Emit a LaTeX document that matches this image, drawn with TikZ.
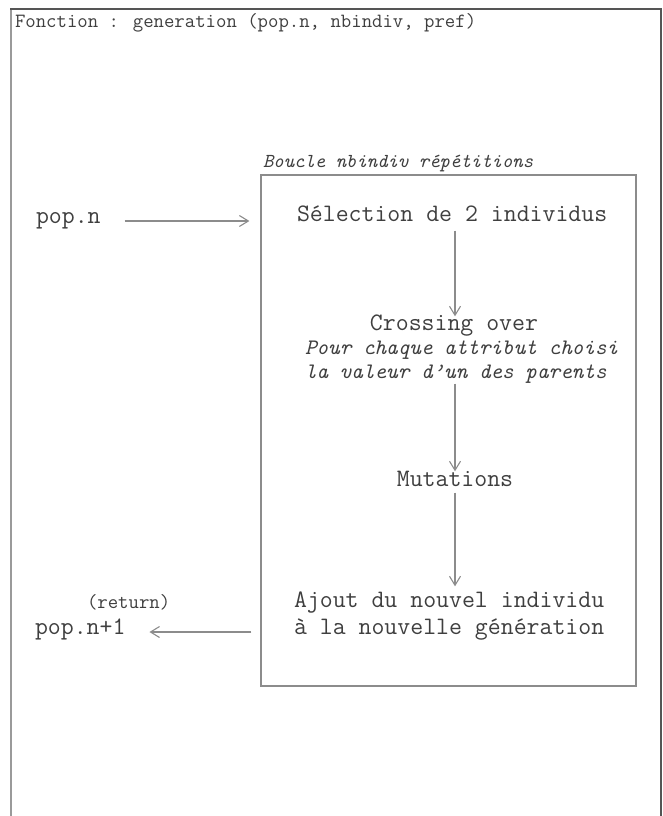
\documentclass[tikz,border=0pt]{standalone}
\usepackage{fontspec}
\usetikzlibrary{arrows.meta}
\definecolor{inkgray}{HTML}{3F3F3F}
\definecolor{linegray}{HTML}{8C8C8C}
\definecolor{framedark}{HTML}{555555}
\definecolor{framelight}{HTML}{9A9A9A}
\begin{document}
\begin{tikzpicture}[x=1pt,y=-1pt,
  txt/.style={inner sep=0pt, outer sep=0pt, text=inkgray,
    text height=0.62em, text depth=0.12em},
  big/.style={txt, font=\ttfamily\fontsize{25.1}{29}\selectfont},
  small/.style={txt, font=\ttfamily\fontsize{20.2}{24}\selectfont},
  note/.style={txt, font=\ttfamily\itshape\fontsize{22.1}{26}\selectfont},
  looplabel/.style={txt, font=\ttfamily\itshape\fontsize{19.8}{23}\selectfont},
  arr/.style={draw=linegray, line width=1.1pt,
    -{Straight Barb[length=9pt,width=11pt,line width=1.1pt]}}]
\useasboundingbox (0,0) rectangle (663,816);
\fill[white] (0,0) rectangle (663,816);

% outer frame, open at the bottom
\draw[framelight, line width=1.6pt] (11,816) -- (11,9);
\draw[framedark, line width=2pt] (10,9) -- (661,9) -- (661,816);

\node[small, anchor=west] (title) at (15,25)
  {Fonction : generation (pop.n, nbindiv, pref)};

% loop box
\node[draw=linegray, line width=1.2pt, minimum width=375pt,
  minimum height=511pt, inner sep=0pt] (loop) at (448.5,430.5) {};
\node[looplabel, anchor=west] (looplbl) at (263,165)
  {Boucle nbindiv répétitions};

\coordinate (axis) at (455,0);

\node[big, anchor=west] (popn) at (36,221) {pop.n};
\node[big, anchor=west] (sel) at (297,219) {Sélection de 2 individus};
\node[big] (cross) at (454,328) {Crossing over};
\node[note, anchor=west] (note1) at (305,352) {Pour chaque attribut choisi};
\node[note, anchor=west] (note2) at (305,376) {la valeur d’un des parents};
\node[big] (mut) at (455,484) {Mutations};
\node[big, anchor=west] (ajout1) at (294,605) {Ajout du nouvel individu};
\node[big, anchor=west] (ajout2) at (294,632) {à la nouvelle génération};
\node[small, anchor=west] (ret) at (87,606) {(return)};
\node[big, anchor=west] (popn1) at (35,632) {pop.n+1};

% connectors
\draw[arr, shorten <=24pt, shorten >=11pt] (popn.east) -- (popn.east -| loop.west);
\draw[arr, shorten <=8pt, shorten >=8pt] (sel.south -| axis) -- (cross.north -| axis);
\draw[arr, shorten <=4pt, shorten >=9pt] (note2.south -| axis) -- (mut.north -| axis);
\draw[arr, shorten <=5pt, shorten >=15pt] (mut.south -| axis) -- (ajout1.north -| axis);
\draw[arr, shorten <=9pt, shorten >=24pt] (popn1.east -| loop.west) -- (popn1.east);
\end{tikzpicture}
\end{document}
